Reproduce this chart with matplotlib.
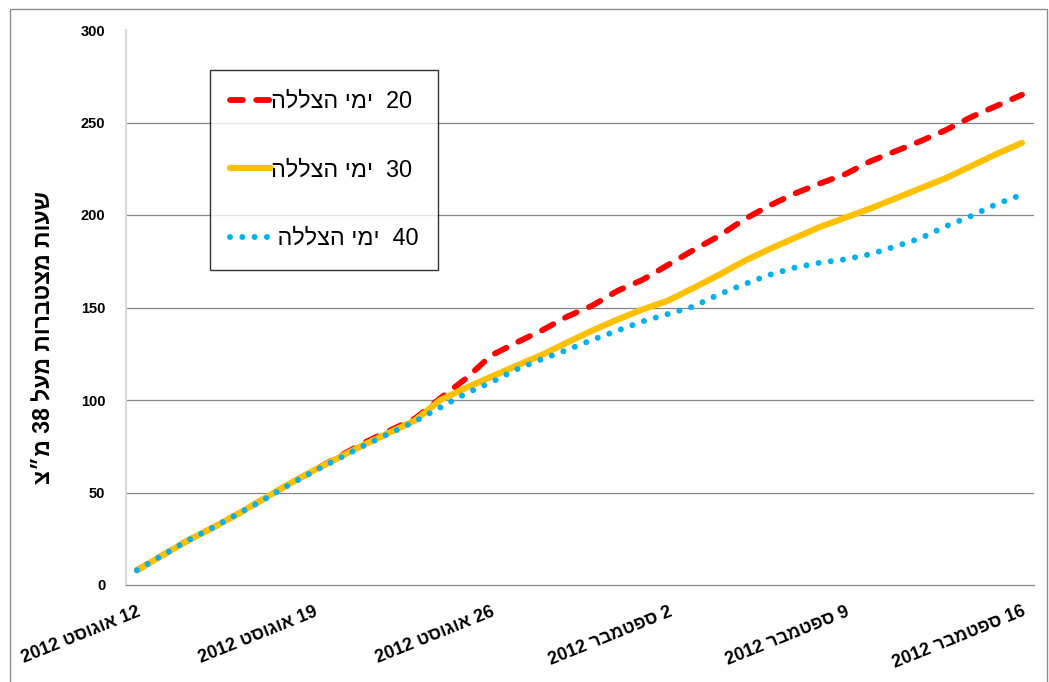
import re
import matplotlib
matplotlib.use("Agg")
import matplotlib.pyplot as plt
import matplotlib.dates as mdates
from matplotlib.patches import Rectangle
import pandas as pd

plt.rcParams['font.family'] = ['Liberation Sans', 'DejaVu Sans']

# Daily dates, 12 Aug 2012 .. 16 Sep 2012
dates = pd.date_range("2012-08-12", "2012-09-16", freq="D")

# Cumulative hours above 38 deg C for three irrigation intervals
shade20 = [8, 16, 24, 31, 38.5, 46.5, 54.5, 62, 69.5, 77, 83.5, 90, 101, 111.5,
           124, 131, 137.5, 145, 151, 159, 165, 173, 181, 188.5, 197.5, 205,
           211.5, 217, 222, 229, 234.5, 240, 246, 253, 259, 265]
shade30 = [8, 16, 24, 31, 38.5, 46.5, 54.5, 62, 69, 76, 82.5, 89, 100, 106.5,
           112.5, 118.5, 124.3, 131, 137.5, 143.5, 149, 153.7, 160.5, 167.5,
           175, 181.5, 187.5, 193.5, 198.5, 203.5, 209, 214.5, 220, 226.5, 233, 239]
shade40 = [8, 16, 24, 31, 38.5, 46, 54, 61.5, 68.5, 75.5, 82, 88.5, 96, 103.5,
           109.5, 116.5, 122, 127, 132.5, 137.5, 142.5, 146.5, 150.5, 157,
           162.5, 167.6, 171.5, 174.2, 176, 178.8, 183, 187.5, 194, 199.5, 206, 211]

series_labels = ["20  ימי הצללה", "30  ימי הצללה", "40  ימי הצללה "]
tick_labels = ["12 אוגוסט 2012", "19 אוגוסט 2012", "26 אוגוסט 2012",
               "2 ספטמבר 2012", "9 ספטמבר 2012", "16 ספטמבר 2012"]
y_label = "שעות מצטברות מעל 38 מ״צ"
y_ticks = [0, 50, 100, 150, 200, 250, 300]


def rtl(text):
    """Lay out a right-to-left string in visual order, keeping digit runs readable."""
    rev = text[::-1]
    return re.sub(r"\d+", lambda m: m.group(0)[::-1], rev)


fig = plt.figure(figsize=(10.49, 6.82), dpi=100)
ax = fig.add_axes([126 / 1049, 1 - 585 / 682, (1034 - 126) / 1049, (585 - 30) / 682])

# outer frame of the chart area
fig.patches.append(Rectangle((10 / 1049, -0.02), (1047 - 10) / 1049, 1.02 - 9 / 682,
                             transform=fig.transFigure, fill=False,
                             edgecolor="#8c8c8c", linewidth=1.0))

l20, = ax.plot(dates, shade20, color="#FF0000", linewidth=4.2,
               dash_capstyle="round", solid_capstyle="round")
l20.set_dashes((2.2, 2.3))
l30, = ax.plot(dates, shade30, color="#FFC000", linewidth=4.5,
               solid_capstyle="round", solid_joinstyle="round")
l40, = ax.plot(dates, shade40, color="#00B0F0", linewidth=4.3,
               dash_capstyle="round")
l40.set_dashes((0.01, 2.05))

x0 = mdates.date2num(dates[0])
x1 = mdates.date2num(dates[-1])
ax.set_xlim(x0 - 0.435, x1 + 0.475)
ax.set_ylim(0, 300)

ax.set_yticks(y_ticks)
ax.set_yticklabels([str(v) for v in y_ticks], fontsize=10.5, fontweight="bold")
ax.tick_params(axis="y", length=0, pad=15)

tick_dates = dates[::7]
ax.set_xticks(tick_dates)
ax.set_xticklabels([rtl(t) for t in tick_labels], fontsize=13, fontweight="bold",
                   rotation=22, ha="right", va="top", rotation_mode="anchor")
ax.tick_params(axis="x", length=0, pad=13)

for v in y_ticks[1:-1]:
    ax.axhline(v, color="#868686", linewidth=0.9, zorder=0)

for s in ["top", "right"]:
    ax.spines[s].set_visible(False)
ax.spines["left"].set_color("#d9d9d9")
ax.spines["left"].set_linewidth(1.5)
ax.spines["bottom"].set_color("#868686")
ax.spines["bottom"].set_linewidth(0.9)

fig.text(43 / 1049, 1 - 338 / 682, rtl(y_label), rotation=90, fontsize=16.5,
         fontweight="bold", ha="center", va="center")

leg = ax.legend([l20, l30, l40], [rtl(s) for s in series_labels],
                loc="upper left", bbox_to_anchor=(0.0925, 0.928),
                fontsize=16.8, frameon=True, fancybox=False, shadow=False,
                handlelength=1.75, handletextpad=0.0, labelspacing=1.95,
                borderpad=0.85, borderaxespad=0.0)
leg.get_frame().set_edgecolor("black")
leg.get_frame().set_linewidth(1.0)

fig.savefig("out.png", dpi=100)
